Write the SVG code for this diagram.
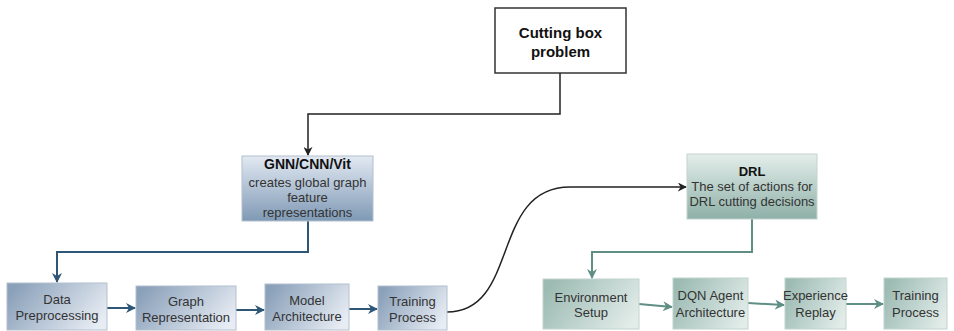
<svg xmlns="http://www.w3.org/2000/svg" width="954" height="331" viewBox="0 0 954 331">
<style>
text{font-family:"Liberation Sans",Arial,sans-serif;font-size:13px;fill:#333;text-anchor:middle;dominant-baseline:central}
.b{font-weight:bold;fill:#111}
.title{font-size:15px}
.blue{stroke:#b3c0ce;stroke-width:1}
.green{stroke:#c3d4cf;stroke-width:1}
.ck{fill:none;stroke:#222;stroke-width:1.5}
.cb{fill:none;stroke:#2e5677;stroke-width:2}
.cg{fill:none;stroke:#5f8f84;stroke-width:2}
</style>
<defs>
<linearGradient id="gbV" x1="0" y1="0" x2="0" y2="1"><stop offset="0" stop-color="#e2e9f2"/><stop offset="1" stop-color="#7f99b5"/></linearGradient>
<linearGradient id="gbH" x1="0" y1="0.3" x2="1" y2="0.7"><stop offset="0" stop-color="#8ba1ba"/><stop offset="1" stop-color="#e8edf4"/></linearGradient>
<linearGradient id="ggV" x1="0" y1="0" x2="0" y2="1"><stop offset="0" stop-color="#e4eeeb"/><stop offset="1" stop-color="#8eb0a7"/></linearGradient>
<linearGradient id="ggH" x1="0" y1="0.3" x2="1" y2="0.7"><stop offset="0" stop-color="#9cbbb3"/><stop offset="1" stop-color="#e2ece9"/></linearGradient>
<marker id="ak" viewBox="0 0 10 10" refX="9" refY="5" markerWidth="9" markerHeight="9" markerUnits="userSpaceOnUse" orient="auto"><path d="M0,0 L10,5 L0,10 L3,5 z" fill="#222"/></marker>
<marker id="ab" viewBox="0 0 10 10" refX="9" refY="5" markerWidth="10" markerHeight="10" markerUnits="userSpaceOnUse" orient="auto"><path d="M0,0 L10,5 L0,10 L3,5 z" fill="#2e5677"/></marker>
<marker id="ag" viewBox="0 0 10 10" refX="9" refY="5" markerWidth="10" markerHeight="10" markerUnits="userSpaceOnUse" orient="auto"><path d="M0,0 L10,5 L0,10 L3,5 z" fill="#5f8f84"/></marker>
</defs>
<rect width="954" height="331" fill="#fff"/>
<g id="connectors">
<path class="ck" d="M560,73 V114 H308 V155" marker-end="url(#ak)"/>
<path class="ck" d="M447,312 C520,312 490,187 570,187 L686,187" marker-end="url(#ak)"/>
<path class="cb" d="M308,221 V252 H57 V282" marker-end="url(#ab)"/>
<path class="cb" d="M107,308 H135" marker-end="url(#ab)"/>
<path class="cb" d="M236,310 H264" marker-end="url(#ab)"/>
<path class="cb" d="M349,309 H377" marker-end="url(#ab)"/>
<path class="cg" d="M752,219 V252 H592 V278" marker-end="url(#ag)"/>
<path class="cg" d="M639,304 L672,307" marker-end="url(#ag)"/>
<path class="cg" d="M748,303 L784,305" marker-end="url(#ag)"/>
<path class="cg" d="M846,304 H883" marker-end="url(#ag)"/>
</g>
<g id="cutting">
<rect x="495" y="8" width="131" height="65" fill="#fff" stroke="#333" stroke-width="1.5"/>
<text class="b title" x="560.5" y="32">Cutting box</text>
<text class="b title" x="560.5" y="51">problem</text>
</g>
<g id="gnn">
<rect class="blue" x="242" y="156" width="131" height="65" fill="url(#gbV)"/>
<text class="b" x="307.5" y="164" style="font-size:14px">GNN/CNN/Vit</text>
<text x="307.5" y="182">creates global graph</text>
<text x="307.5" y="197">feature</text>
<text x="307.5" y="212">representations</text>
</g>
<g id="data">
<rect class="blue" x="7" y="283" width="100" height="47" fill="url(#gbH)"/>
<text x="57" y="299">Data</text>
<text x="57" y="315">Preprocessing</text>
</g>
<g id="graph">
<rect class="blue" x="136" y="286" width="100" height="44" fill="url(#gbH)"/>
<text x="186" y="301">Graph</text>
<text x="186" y="317">Representation</text>
</g>
<g id="model">
<rect class="blue" x="265" y="284" width="84" height="46" fill="url(#gbH)"/>
<text x="307" y="300">Model</text>
<text x="307" y="316">Architecture</text>
</g>
<g id="training1">
<rect class="blue" x="378" y="286" width="69" height="44" fill="url(#gbH)"/>
<text x="412.5" y="301">Training</text>
<text x="412.5" y="317">Process</text>
</g>
<g id="drl">
<rect class="green" x="687" y="154" width="130" height="65" fill="url(#ggV)"/>
<text class="b" x="752" y="171">DRL</text>
<text x="752" y="186">The set of actions for</text>
<text x="752" y="201">DRL cutting decisions</text>
</g>
<g id="env">
<rect class="green" x="543" y="279" width="96" height="50" fill="url(#ggH)"/>
<text x="591" y="297">Environment</text>
<text x="591" y="312">Setup</text>
</g>
<g id="dqn">
<rect class="green" x="673" y="278" width="75" height="51" fill="url(#ggH)"/>
<text x="710.5" y="295">DQN Agent</text>
<text x="710.5" y="312">Architecture</text>
</g>
<g id="exp">
<rect class="green" x="785" y="278" width="61" height="51" fill="url(#ggH)"/>
<text x="815.5" y="295">Experience</text>
<text x="815.5" y="312">Replay</text>
</g>
<g id="training2">
<rect class="green" x="884" y="278" width="63" height="51" fill="url(#ggH)"/>
<text x="915.5" y="295">Training</text>
<text x="915.5" y="312">Process</text>
</g>
</svg>
